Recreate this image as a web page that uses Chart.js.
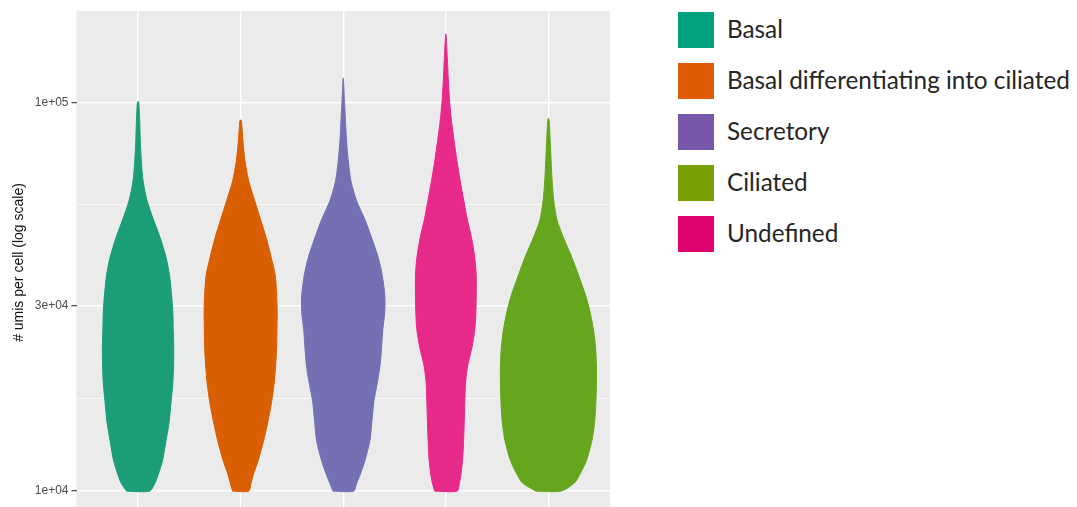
<!DOCTYPE html>
<html>
<head>
<meta charset="utf-8">
<script src="https://cdn.jsdelivr.net/npm/chart.js@4/dist/chart.umd.min.js"></script>
<style>
  html, body { margin: 0; padding: 0; background: #ffffff; width: 1077px; height: 507px; overflow: hidden; }
  #plot { position: absolute; left: 0; top: 0; width: 610px; height: 530px; }
  #legend { position: absolute; left: 678px; top: 12px; font-family: Lato, "Open Sans", sans-serif; color: #262626; }
  .item { position: absolute; left: 0; height: 36px; white-space: nowrap; }
  .swatch { position: absolute; left: 0; top: 0; width: 36px; height: 36px; }
  .label { position: absolute; left: 49px; top: -1px; line-height: 36px; font-size: 24.3px; }
</style>
</head>
<body>
<div id="plot"><canvas id="chart"></canvas></div>
<div id="legend"></div>
<script>
// Cell types, in plotting order along the x axis
const categories = ['Basal', 'Basal differentiating into ciliated', 'Secretory', 'Undefined', 'Ciliated'];
const violinColors = ['#1B9E77', '#D95F02', '#7570B3', '#E7298A', '#66A61E'];

// Legend entries
const legendLabels = ['Basal', 'Basal differentiating into ciliated', 'Secretory', 'Ciliated', 'Undefined'];
const legendColors = ['#03A27E', '#E05B06', '#7858AC', '#76A100', '#DE0370'];

// UMI levels at which the density (violin half-width) is sampled
const umiLevels = [10000, 10500, 11000, 12000, 13500, 15000, 17000, 19000, 21000, 23500, 26000,
                   29000, 32000, 36000, 40000, 45000, 50000, 56000, 63000, 71000, 80000, 90000,
                   100000, 115000, 130000];

// Half-width of each violin at those levels (fraction of one category slot)
const basalWidth = [0.112, 0.166, 0.195, 0.239, 0.273, 0.302, 0.322, 0.339, 0.346, 0.348, 0.343,
                    0.339, 0.327, 0.307, 0.273, 0.215, 0.151, 0.088, 0.049, 0.032, 0.022, 0.016,
                    0.007, null, null];
const basalDiffWidth = [0.078, 0.102, 0.122, 0.171, 0.224, 0.263, 0.302, 0.327, 0.341, 0.351, 0.354,
                        0.356, 0.351, 0.337, 0.298, 0.249, 0.195, 0.137, 0.078, 0.042, 0.022, 0.008,
                        null, null, null];
const secretoryWidth = [0.100, 0.132, 0.163, 0.212, 0.260, 0.278, 0.298, 0.332, 0.358, 0.374, 0.385,
                        0.405, 0.405, 0.380, 0.341, 0.276, 0.212, 0.130, 0.075, 0.049, 0.032, 0.022,
                        0.013, null, null];
const undefinedWidth = [0.109, 0.132, 0.146, 0.163, 0.173, 0.179, 0.185, 0.192, 0.212, 0.255, 0.282,
                        0.293, 0.296, 0.296, 0.282, 0.250, 0.210, 0.175, 0.140, 0.108, 0.080, 0.055,
                        0.038, 0.024, 0.015];
const ciliatedWidth = [0.122, 0.254, 0.302, 0.371, 0.424, 0.449, 0.463, 0.468, 0.468, 0.459, 0.439,
                       0.405, 0.361, 0.293, 0.229, 0.146, 0.083, 0.052, 0.036, 0.026, 0.017, 0.007,
                       null, null, null];
const violinWidths = [basalWidth, basalDiffWidth, secretoryWidth, undefinedWidth, ciliatedWidth];

// Largest UMI count per cell type (top of each violin)
const maxUmis = [101000, 90400, 116000, 150700, 91400];
const minUmis = 10000;

// Y axis breaks and their labels
const yTicks = [10000, 30000, 100000];
const yTickLabels = ['1e+04', '3e+04', '1e+05'];

// Closed outline of one violin: up the left side, through the top, down the right side
function violinOutline(i) {
  const center = i + 1;
  const w = violinWidths[i];
  const left = [], right = [];
  umiLevels.forEach((v, k) => {
    if (w[k] === null || v >= maxUmis[i]) return;
    left.push({ x: center - w[k], y: v });
    right.push({ x: center + w[k], y: v });
  });
  const pts = left.concat([{ x: center, y: maxUmis[i] }], right.reverse());
  pts.push(pts[0]);
  return pts;
}

// Log axis range with ggplot's 5% expansion
const logLo = Math.log10(minUmis);
const logHi = Math.log10(Math.max(...maxUmis));
const pad = (logHi - logLo) * 0.05;
const yMin = Math.pow(10, logLo - pad);
const yMax = Math.pow(10, logHi + pad);

// Minor grid lines halfway (in log space) between the breaks
const minorTicks = [];
for (let k = 0; k < yTicks.length - 1; k++) minorTicks.push(Math.sqrt(yTicks[k] * yTicks[k + 1]));
const allYTicks = yTicks.concat(minorTicks).sort((a, b) => a - b);
const isMajor = v => yTicks.some(t => Math.abs(t - v) / t < 1e-6);

const panelBackground = {
  id: 'panelBackground',
  beforeDraw(chart) {
    const { ctx, chartArea: { left, top, width, height } } = chart;
    ctx.save();
    ctx.fillStyle = '#EBEBEB';
    ctx.fillRect(left, top, width, height);
    ctx.restore();
  }
};

new Chart(document.getElementById('chart'), {
  type: 'line',
  data: {
    datasets: categories.map((name, i) => ({
      label: name,
      data: violinOutline(i),
      borderColor: violinColors[i],
      backgroundColor: violinColors[i],
      borderWidth: 1,
      pointRadius: 0,
      tension: 0.25,
      fill: 'shape'
    }))
  },
  options: {
    responsive: true,
    maintainAspectRatio: false,
    animation: false,
    events: [],
    layout: { padding: { top: 11, right: 0, bottom: 16, left: 0 } },
    plugins: { legend: { display: false }, tooltip: { enabled: false } },
    scales: {
      x: {
        type: 'linear',
        min: 0.4,
        max: 5.6,
        afterBuildTicks: s => { s.ticks = categories.map((c, i) => ({ value: i + 1 })); },
        ticks: { display: false },
        grid: { color: '#FFFFFF', lineWidth: 1.4, drawTicks: false },
        border: { display: false }
      },
      y: {
        type: 'logarithmic',
        min: yMin,
        max: yMax,
        bounds: 'data',
        afterBuildTicks: s => { s.ticks = allYTicks.map(v => ({ value: v })); },
        afterFit: s => { s.width = 76.5; },
        ticks: {
          callback: v => { const k = yTicks.findIndex(t => Math.abs(t - v) / t < 1e-6); return k >= 0 ? yTickLabels[k] : ''; },
          color: '#4D4D4D',
          font: { family: '"Liberation Sans", Arial, sans-serif', size: 12 },
          padding: 3,
          autoSkip: false
        },
        grid: {
          color: '#FFFFFF',
          lineWidth: ctx => isMajor(ctx.tick.value) ? 1.4 : 0.7,
          tickColor: ctx => isMajor(ctx.tick.value) ? '#333333' : 'rgba(0,0,0,0)',
          tickWidth: 1.1,
          tickLength: 5
        },
        border: { display: false },
        title: {
          display: true,
          text: '# umis per cell (log scale)',
          color: '#111111',
          font: { family: '"Liberation Sans", Arial, sans-serif', size: 14 },
          padding: { top: 11, bottom: 0 }
        }
      }
    }
  },
  plugins: [panelBackground]
});

// Legend
const legend = document.getElementById('legend');
legendLabels.forEach((name, i) => {
  const item = document.createElement('div');
  item.className = 'item';
  item.style.top = (i * 51) + 'px';
  const sw = document.createElement('div');
  sw.className = 'swatch';
  sw.style.background = legendColors[i];
  const lb = document.createElement('span');
  lb.className = 'label';
  lb.textContent = name;
  item.appendChild(sw);
  item.appendChild(lb);
  legend.appendChild(item);
});
</script>
</body>
</html>
